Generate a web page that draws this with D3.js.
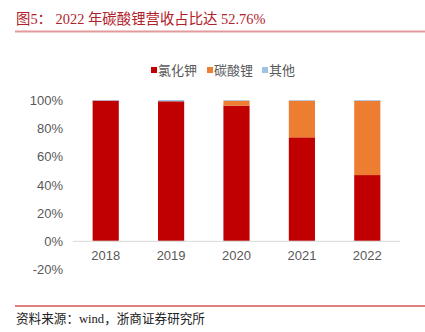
<!DOCTYPE html>
<html><head><meta charset="utf-8">
<script src="https://cdn.jsdelivr.net/npm/d3@7"></script>
<style>body{margin:0;background:#fff;}svg{display:block;}</style>
</head><body>
<script>
const years = ["2018","2019","2020","2021","2022"];
const seriesNames = ["氯化钾","碳酸锂","其他"];
const kcl = [99.6, 99.1, 96.0, 73.5, 46.7];
const li2co3 = [0.0, 0.0, 3.5, 26.0, 52.76];
const other = [0.4, 0.9, 0.5, 0.5, 0.54];
const yTicks = [-20,0,20,40,60,80,100];
const colors = ["#C00000","#ED7D31","#9DC3E6"];

const W=425,H=332;
const svg=d3.select("body").append("svg").attr("width",W).attr("height",H);
const serif='"Liberation Serif","Noto Sans CJK SC",serif';
const sans='"Liberation Sans","Noto Sans CJK SC",sans-serif';

svg.append("text").attr("x",16).attr("y",24).attr("font-family",serif).attr("font-size",14.4)
  .attr("fill","#B22029").text("图5：  2022 年碳酸锂营收占比达 52.76%");
svg.append("line").attr("x1",15).attr("x2",425).attr("y1",31.5).attr("y2",31.5).attr("stroke","#E39A9C").attr("stroke-width",2);

const x=d3.scaleBand().domain(years).range([73,400]).paddingInner(0.6).paddingOuter(0.3);
const y=d3.scaleLinear().domain([-20,100]).range([269,100]);

// legend
const lg=svg.append("g");
const lx=[151,207,262];
seriesNames.forEach((n,i)=>{
  lg.append("rect").attr("x",lx[i]).attr("y",67).attr("width",6).attr("height",6).attr("fill",colors[i]);
  lg.append("text").attr("x",lx[i]+7).attr("y",75).attr("font-family",sans).attr("font-size",13).attr("fill","#595959").text(n);
});

// y axis labels
yTicks.forEach(t=>{
  svg.append("text").attr("x",63).attr("y",y(t)+5).attr("text-anchor","end")
    .attr("font-family",sans).attr("font-size",13).attr("fill","#595959")
    .text((t<0?"-":"")+Math.abs(t)+"%");
});

const data=years.map((yr,i)=>({year:yr,kcl:kcl[i],li:li2co3[i],other:other[i]}));
const stack=d3.stack().keys(["kcl","li","other"])(data);
stack.forEach((s,si)=>{
  svg.append("g").selectAll("rect").data(s).join("rect")
    .attr("x",d=>x(d.data.year)).attr("width",x.bandwidth())
    .attr("y",d=>y(d[1])).attr("height",d=>Math.max(0,y(d[0])-y(d[1])))
    .attr("fill",colors[si]);
});

svg.append("line").attr("x1",73).attr("x2",400).attr("y1",y(0)+0.5).attr("y2",y(0)+0.5).attr("stroke","#D9D9D9").attr("stroke-width",1);

years.forEach(yr=>{
  svg.append("text").attr("x",x(yr)+x.bandwidth()/2).attr("y",260).attr("text-anchor","middle")
    .attr("font-family",sans).attr("font-size",13).attr("fill","#595959").text(yr);
});

svg.append("line").attr("x1",15).attr("x2",425).attr("y1",306).attr("y2",306).attr("stroke","#C00000").attr("stroke-width",1.2);
svg.append("text").attr("x",16).attr("y",323).attr("font-family",serif).attr("font-size",12.6)
  .attr("fill","#222").text("资料来源：wind，浙商证券研究所");
</script>
</body></html>
